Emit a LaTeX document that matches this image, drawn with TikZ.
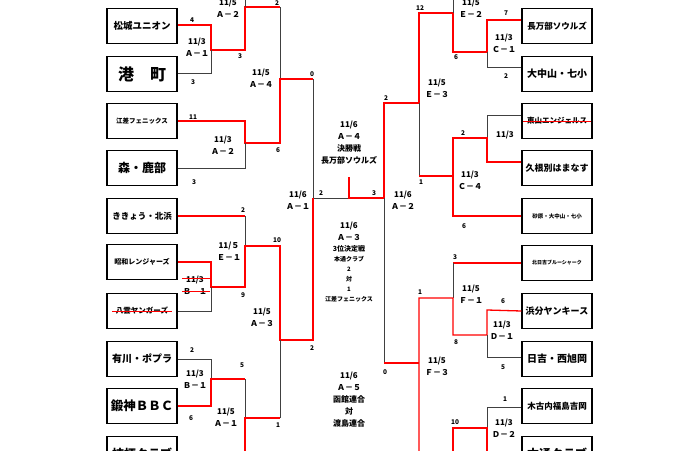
\documentclass[tikz,border=0pt]{standalone}
\usepackage{fontspec}
\setmainfont{Noto Sans CJK JP}
\usepackage{tikz}
\usetikzlibrary{positioning}
\tikzstyle{Team} = [rectangle, draw=black, line width=1.3pt, minimum width=70pt, minimum height=35pt, inner sep=0pt, font=\bfseries]
\tikzstyle{Win} = [draw=red, line width=1.3pt]
\tikzstyle{Lose} = [draw=black!75, line width=0.8pt]
\tikzstyle{Score} = [font=\bfseries\fontsize{6.5}{7}\selectfont, inner sep=0pt]
\tikzstyle{Game} = [font=\bfseries\fontsize{8}{9}\selectfont, inner sep=0pt, align=center]

\begin{document}
\begin{tikzpicture}[x=1pt, y=-1pt]

    \useasboundingbox (0,0) rectangle (680,450);
    \clip (0,0) rectangle (680,450);

    %%%%%%%%%%%%%%%%%%%%%%
    \node[Team] (matsu) at (142,26) {\fontsize{9.5}{10}\selectfont 松城ユニオン};
    \node[Team] (minato) at (142,74) {\fontsize{16}{17}\selectfont 港\quad 町};
    \node[Team] (esashi) at (142,121) {\fontsize{6.5}{7}\selectfont 江差フェニックス};
    \node[Team] (mori) at (142,168) {\fontsize{12}{13}\selectfont 森・鹿部};
    \node[Team] (kikyo) at (142,216) {\fontsize{8.5}{9}\selectfont ききょう・北浜};
    \node[Team] (showa) at (142,262) {\fontsize{7}{8}\selectfont 昭和レンジャーズ};
    \node[Team] (yakumo) at (142,311) {};
    \node (yakumoT) at (yakumo) {\bfseries\fontsize{7.5}{8}\selectfont 八雲ヤンガーズ};
    \node[Team] (arikawa) at (142,359) {\fontsize{10}{11}\selectfont 有川・ポプラ};
    \node[Team] (kajin) at (142,406) {\fontsize{12.5}{13}\selectfont 鍛神ＢＢＣ};
    \node[Team] (kikyoclub) at (142,454) {\fontsize{12}{13}\selectfont 桔梗クラブ};

    \node[Team] (osyaman) at (557,26) {\fontsize{8.5}{9}\selectfont 長万部ソウルズ};
    \node[Team] (onakayama) at (557,74) {\fontsize{10}{11}\selectfont 大中山・七小};
    \node[Team] (higashiyama) at (557,121) {};
    \node (higashiyamaT) at (higashiyama) {\bfseries\fontsize{7.5}{8}\selectfont 東山エンジェルス};
    \node[Team] (kunebetsu) at (557,168) {\fontsize{9}{10}\selectfont 久根別はまなす};
    \node[Team] (sawara) at (557,216) {\fontsize{5.5}{6}\selectfont 砂原・大中山・七小};
    \node[Team] (kitahiyoshi) at (557,263) {\fontsize{5}{6}\selectfont 北日吉ブルーシャーク};
    \node[Team] (hamawake) at (557,311) {\fontsize{9}{10}\selectfont 浜分ヤンキース};
    \node[Team] (hiyoshi) at (557,359) {\fontsize{10}{11}\selectfont 日吉・西旭岡};
    \node[Team] (kikonai) at (557,406) {\fontsize{8.5}{9}\selectfont 木古内福島吉岡};
    \node[Team] (hondori) at (557,454) {\fontsize{12}{13}\selectfont 本通クラブ};

    %%%%%%%%%%%%%%%%%%%%%%
    \draw[Win] (matsu.east |- 0,25) -- (211,25) -- (211,50) -- (245,50) -- (245,7) -- (280,7);
    \draw[Lose] (minato.east |- 0,73) -- (211,73) -- (211,50);
    \draw[Lose] (245,7) -- (245,-5);
    \draw[Lose] (280,7) -- (280,79);
    \draw[Win] (esashi.east) -- (245,121) -- (245,143) -- (280,143) -- (280,79) -- (313,79);
    \draw[Lose] (mori.east) -- (245,168) -- (245,143);
    \draw[Lose] (313,79) -- (313,198) -- (349,198);
    \draw[Win] (349,177) -- (349,198) -- (384,198);
    \draw[Win] (kikyo.east) -- (245,216);
    \draw[Lose] (245,216) -- (245,246);
    \draw[Win] (showa.east) -- (211,262) -- (211,287) -- (245,287) -- (245,246) -- (280,246) -- (280,340) -- (313,340) -- (313,198);
    \draw[Lose] (yakumo.east) -- (211,311) -- (211,287);
    \draw[Lose] (280,340) -- (280,418);
    \draw[Lose] (arikawa.east) -- (211,359) -- (211,379);
    \draw[Win] (kajin.east) -- (211,406) -- (211,379) -- (245,379);
    \draw[Lose] (245,379) -- (245,418);
    \draw[Win] (280,418) -- (245,418) -- (245,460);

    \draw[Win] (osyaman.west |- 0,20) -- (487,20) -- (487,52) -- (453,52) -- (453,13) -- (419,13) -- (419,103) -- (384,103) -- (384,198);
    \draw[Lose] (onakayama.west |- 0,67) -- (487,67) -- (487,52);
    \draw[Lose] (453,13) -- (453,-5);
    \draw[Lose] (419,103) -- (419,176);
    \draw[Lose] (higashiyama.west |- 0,115) -- (487,115) -- (487,138);
    \draw[Win] (kunebetsu.west |- 0,162) -- (487,162) -- (487,138) -- (453,138) -- (453,176) -- (419,176);
    \draw[Win] (sawara.west) -- (453,216) -- (453,176);
    \draw[Lose] (384,198) -- (384,363);
    \draw[Win] (384,363) -- (419,363);
    \draw[Win] (kitahiyoshi.west) -- (453,263);
    \draw[Lose] (453,263) -- (453,298);
    \draw[Win] (419,460) -- (419,298) -- (453,298) -- (453,335) -- (487,335) -- (487,310) -- (hamawake.west);
    \draw[Lose] (487,335) -- (487,357) -- (hiyoshi.west |- 0,357);
    \draw[Lose] (kikonai.west |- 0,407) -- (487,407) -- (487,428);
    \draw[Win] (487,460) -- (487,428) -- (453,428) -- (453,460);

    % strike outs
    \draw[Win, line width=1pt] (yakumoT.west) -- (yakumoT.east);
    \draw[Win, line width=1pt] (higashiyamaT.west) -- (higashiyamaT.east);

    %%%%%%%%%%%%%%%%%%%%%%
    \node[Game] (gA2a) at (228,8) {11/5\\[3pt]Ａ－２};
    \node[Game] (gA1a) at (197,47) {11/3\\[3pt]Ａ－１};
    \node[Game] (gA4a) at (261,78) {11/5\\[3pt]Ａ－４};
    \node[Game] (gA2b) at (223,145) {11/3\\[3pt]Ａ－２};
    \node[Game] (gA1c) at (298,200) {11/6\\[3pt]Ａ－１};
    \node[Game] (gE1) at (229,251) {11/５\\[3pt]Ｅ－１};
    \node[Game] (gB1a) at (195,285) {11/3\\[3pt]Ｂ\quad １};
    \draw[Win, line width=1pt] (182,278) -- (210,278);
    \draw[Win, line width=1pt] (182,291) -- (210,291);
    \node[Game] (gA3a) at (262,317) {11/5\\[3pt]Ａ－３};
    \node[Game] (gB1b) at (195,379) {11/3\\[3pt]Ｂ－１};
    \node[Game] (gA1b) at (226,417) {11/5\\[3pt]Ａ－１};

    \node[Game] (final) at (349,143) {11/6\\[3pt]Ａ－４\\[3pt]決勝戦\\[3pt]長万部ソウルズ};
    \node[Game] (third) at (349,262) {11/6\\[3pt]Ａ－３\\[2pt]{\fontsize{7}{8}\selectfont 3位決定戦}\\[1pt]{\fontsize{6}{7}\selectfont 本通クラブ}\\[1pt]{\fontsize{6}{7}\selectfont 2}\\[1pt]{\fontsize{6}{7}\selectfont 対}\\[1pt]{\fontsize{6}{7}\selectfont 1}\\[1pt]{\fontsize{6}{7}\selectfont 江差フェニックス}};
    \node[Game] (fifth) at (349,400) {11/6\\[3pt]Ａ－５\\[3pt]函館連合\\[3pt]対\\[3pt]渡島連合};

    \node[Game] (gE2) at (471,8) {11/5\\[3pt]Ｅ－２};
    \node[Game] (gC1) at (504,43) {11/3\\[3pt]Ｃ－１};
    \node[Game] (gE3) at (437,88) {11/5\\[3pt]Ｅ－３};
    \node[Game] (gC3) at (505,135) {11/3};
    \node[Game] (gC4) at (470,180) {11/3\\[3pt]Ｃ－４};
    \node[Game] (gA2c) at (403,200) {11/6\\[3pt]Ａ－２};
    \node[Game] (gF1) at (471,294) {11/5\\[3pt]Ｆ－１};
    \node[Game] (gD1) at (502,330) {11/3\\[3pt]Ｄ－１};
    \node[Game] (gF3) at (437,366) {11/5\\[3pt]Ｆ－３};
    \node[Game] (gD2) at (504,428) {11/3\\[3pt]Ｄ－２};

    %%%%%%%%%%%%%%%%%%%%%%
    \foreach \s/\x/\y in {4/192/20, 3/193/82, 2/277/3, 3/240/56, 0/312/74, 11/193/117, 3/194/182, 6/278/150,
        2/321/193, 2/243/210, 10/277/240, 9/243/295, 2/312/348, 2/192/350, 5/242/365, 6/191/418, 1/278/425,
        3/374/193, 2/386/98, 0/385/372, 12/420/8, 7/506/13, 6/456/57, 2/506/76, 2/463/133, 1/421/182, 6/464/226,
        3/455/257, 1/420/292, 6/503/301, 8/456/342, 5/503/367, 1/505/399, 10/455/422}
        \node[Score] at (\x,\y) {\s};

\end{tikzpicture}
\end{document}
